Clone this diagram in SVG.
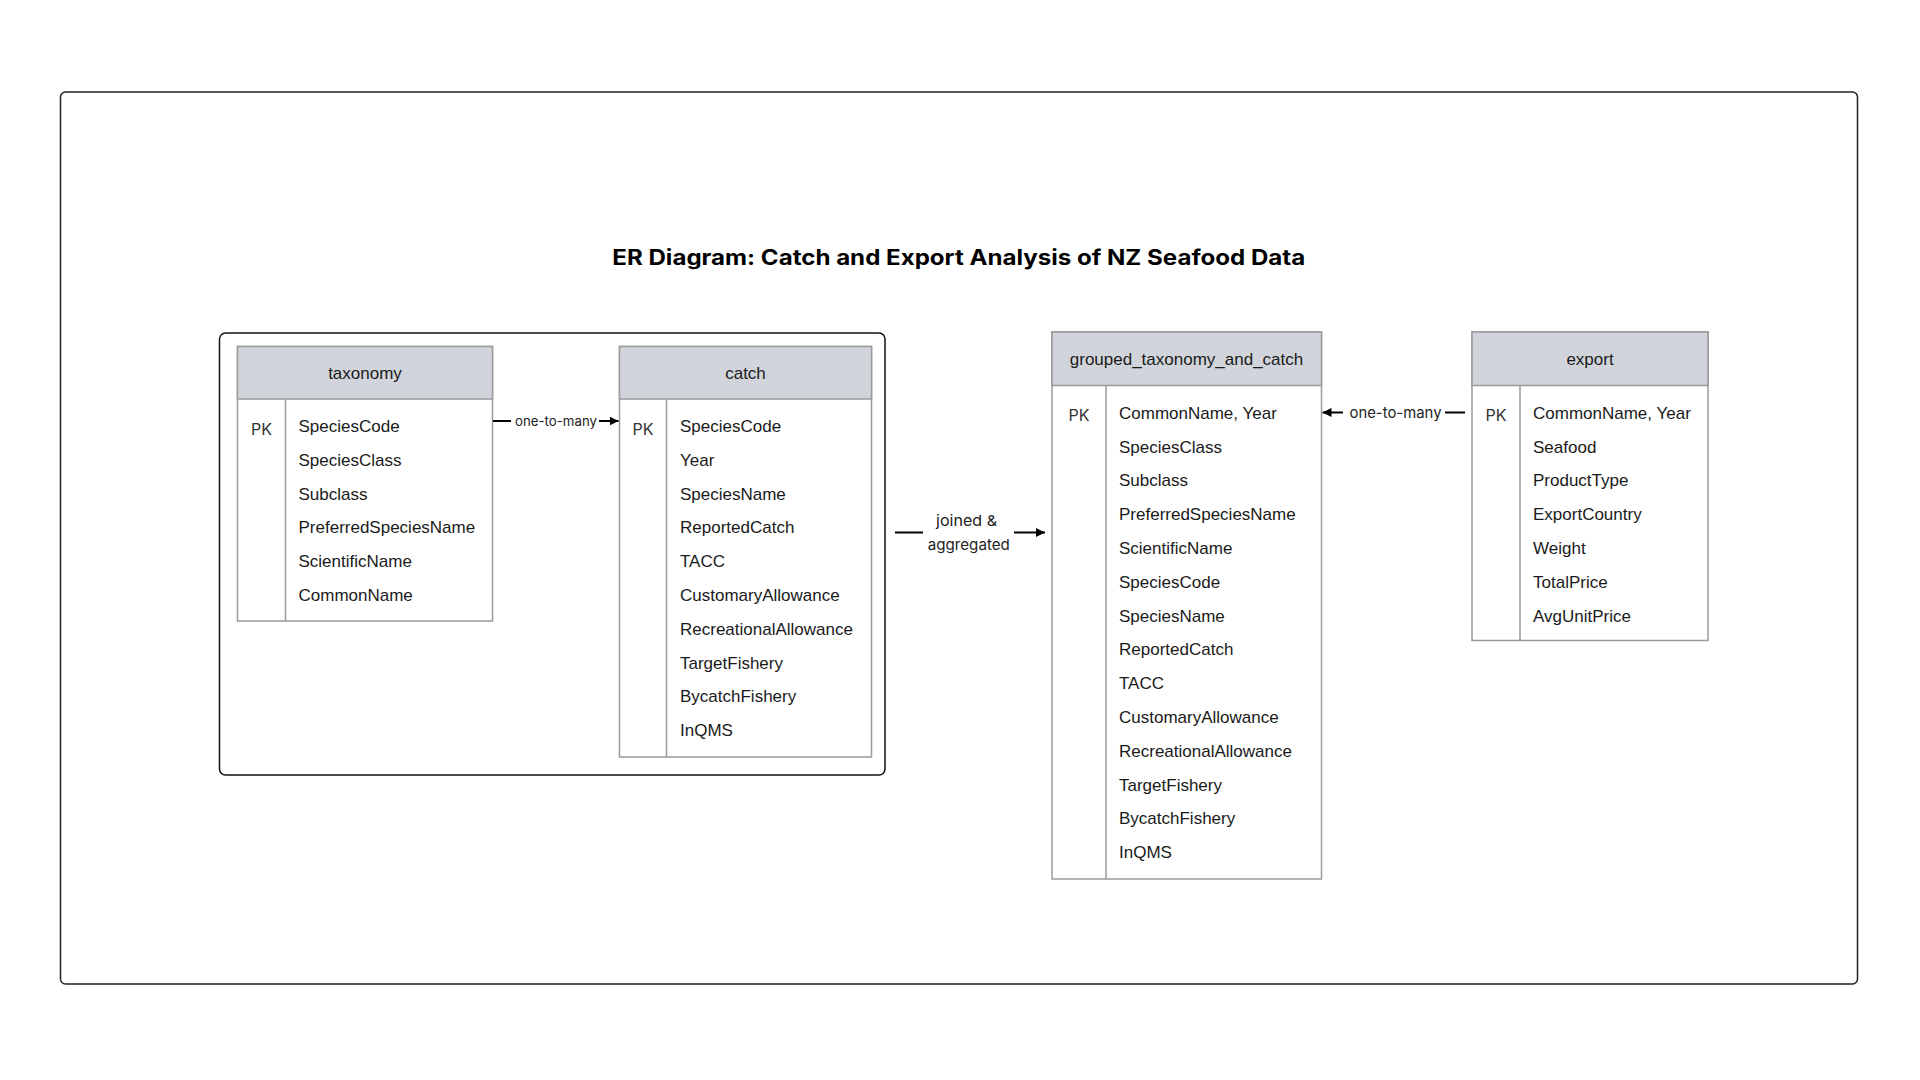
<svg xmlns="http://www.w3.org/2000/svg" width="1920" height="1080" viewBox="0 0 1920 1080">
<defs>
<style>
.frame{fill:none;stroke:#222;stroke-width:1.5}
.grp{fill:none;stroke:#111;stroke-width:1.5}
.tbl{fill:#fff;stroke:#9a9a9a;stroke-width:1.5}
.hdr{fill:#d1d5db;stroke:#9a9a9a;stroke-width:1.5}
.div{stroke:#9a9a9a;stroke-width:1.5}
.title{font-family:Inter,"Liberation Sans",sans-serif;font-weight:700;font-size:21px;fill:#000}
.hname{font-family:"Liberation Sans",Arial,sans-serif;font-size:17px;fill:#1a1a1a;text-anchor:middle}
.fld{font-family:"Liberation Sans",Arial,sans-serif;font-size:17px;fill:#1a1a1a}
.pk{font-family:Inter,"Liberation Sans",sans-serif;font-size:16px;font-weight:400;fill:#333;text-anchor:middle}
.lbl{font-family:Inter,"Liberation Sans",sans-serif;fill:#222;text-anchor:middle}
.conn{stroke:#000;stroke-width:2;fill:none}
</style>
<marker id="ah" viewBox="0 0 10 10" refX="10" refY="5" markerWidth="9" markerHeight="9" markerUnits="userSpaceOnUse" orient="auto">
<path d="M0,0 L10,5 L0,10 Z" fill="#000"/>
</marker>
</defs>
<rect width="1920" height="1080" fill="#fff"/>
<rect class="frame" x="60.5" y="92" width="1797" height="892" rx="5"/>
<text class="title" x="958.8" y="264.5" text-anchor="middle" textLength="693" lengthAdjust="spacingAndGlyphs">ER Diagram: Catch and Export Analysis of NZ Seafood Data</text>

<g id="group-box">
<rect class="grp" x="219.5" y="333" width="665.5" height="442" rx="6"/>
</g>

<g id="taxonomy">
<rect class="tbl" x="237.5" y="346.5" width="255" height="274.5"/>
<rect class="hdr" x="237.5" y="346.5" width="255" height="52.5"/>
<line class="div" x1="285.5" y1="399" x2="285.5" y2="621"/>
<text class="hname" x="365" y="378.5">taxonomy</text>
<text class="pk" x="261.5" y="434.5">PK</text>
<text class="fld" x="298.5" y="432">SpeciesCode</text>
<text class="fld" x="298.5" y="465.8">SpeciesClass</text>
<text class="fld" x="298.5" y="499.6">Subclass</text>
<text class="fld" x="298.5" y="533.4">PreferredSpeciesName</text>
<text class="fld" x="298.5" y="567.2">ScientificName</text>
<text class="fld" x="298.5" y="601">CommonName</text>
</g>

<g id="catch">
<rect class="tbl" x="619.5" y="346.5" width="252" height="410.5"/>
<rect class="hdr" x="619.5" y="346.5" width="252" height="52.5"/>
<line class="div" x1="666.5" y1="399" x2="666.5" y2="757"/>
<text class="hname" x="745.5" y="378.5">catch</text>
<text class="pk" x="643" y="434.5">PK</text>
<text class="fld" x="680" y="432">SpeciesCode</text>
<text class="fld" x="680" y="465.8">Year</text>
<text class="fld" x="680" y="499.6">SpeciesName</text>
<text class="fld" x="680" y="533.4">ReportedCatch</text>
<text class="fld" x="680" y="567.2">TACC</text>
<text class="fld" x="680" y="601">CustomaryAllowance</text>
<text class="fld" x="680" y="634.8">RecreationalAllowance</text>
<text class="fld" x="680" y="668.6">TargetFishery</text>
<text class="fld" x="680" y="702.4">BycatchFishery</text>
<text class="fld" x="680" y="736.2">InQMS</text>
</g>

<g id="grouped_taxonomy_and_catch">
<rect class="tbl" x="1052" y="332" width="269.5" height="547"/>
<rect class="hdr" x="1052" y="332" width="269.5" height="53.5"/>
<line class="div" x1="1106" y1="385.5" x2="1106" y2="879"/>
<text class="hname" x="1186.5" y="365">grouped_taxonomy_and_catch</text>
<text class="pk" x="1079" y="420.5">PK</text>
<text class="fld" x="1119" y="418.7">CommonName, Year</text>
<text class="fld" x="1119" y="452.5">SpeciesClass</text>
<text class="fld" x="1119" y="486.3">Subclass</text>
<text class="fld" x="1119" y="520.1">PreferredSpeciesName</text>
<text class="fld" x="1119" y="553.9">ScientificName</text>
<text class="fld" x="1119" y="587.7">SpeciesCode</text>
<text class="fld" x="1119" y="621.5">SpeciesName</text>
<text class="fld" x="1119" y="655.3">ReportedCatch</text>
<text class="fld" x="1119" y="689.1">TACC</text>
<text class="fld" x="1119" y="722.9">CustomaryAllowance</text>
<text class="fld" x="1119" y="756.7">RecreationalAllowance</text>
<text class="fld" x="1119" y="790.5">TargetFishery</text>
<text class="fld" x="1119" y="824.3">BycatchFishery</text>
<text class="fld" x="1119" y="858.1">InQMS</text>
</g>

<g id="export">
<rect class="tbl" x="1472" y="332" width="236" height="308.5"/>
<rect class="hdr" x="1472" y="332" width="236" height="53.5"/>
<line class="div" x1="1520" y1="385.5" x2="1520" y2="640.5"/>
<text class="hname" x="1590" y="365">export</text>
<text class="pk" x="1496" y="420.5">PK</text>
<text class="fld" x="1533" y="418.7">CommonName, Year</text>
<text class="fld" x="1533" y="452.5">Seafood</text>
<text class="fld" x="1533" y="486.3">ProductType</text>
<text class="fld" x="1533" y="520.1">ExportCountry</text>
<text class="fld" x="1533" y="553.9">Weight</text>
<text class="fld" x="1533" y="587.7">TotalPrice</text>
<text class="fld" x="1533" y="621.5">AvgUnitPrice</text>
</g>

<g id="connectors">
<line class="conn" x1="493" y1="421" x2="511" y2="421"/>
<line class="conn" x1="599" y1="421" x2="618.5" y2="421" marker-end="url(#ah)"/>
<text class="lbl" x="556" y="425.5" font-size="13" textLength="82" lengthAdjust="spacingAndGlyphs">one-to-many</text>

<line class="conn" x1="895" y1="532.5" x2="923" y2="532.5"/>
<line class="conn" x1="1014" y1="532.5" x2="1045" y2="532.5" marker-end="url(#ah)"/>
<text class="lbl" x="966.5" y="526" font-size="15" textLength="61" lengthAdjust="spacingAndGlyphs">joined &amp;</text>
<text class="lbl" x="968.8" y="549.5" font-size="15" textLength="82" lengthAdjust="spacingAndGlyphs">aggregated</text>

<line class="conn" x1="1465" y1="412.5" x2="1445" y2="412.5"/>
<line class="conn" x1="1343" y1="412.5" x2="1322.5" y2="412.5" marker-end="url(#ah)"/>
<text class="lbl" x="1395.5" y="417.5" font-size="15" textLength="92" lengthAdjust="spacingAndGlyphs">one-to-many</text>
</g>
</svg>
